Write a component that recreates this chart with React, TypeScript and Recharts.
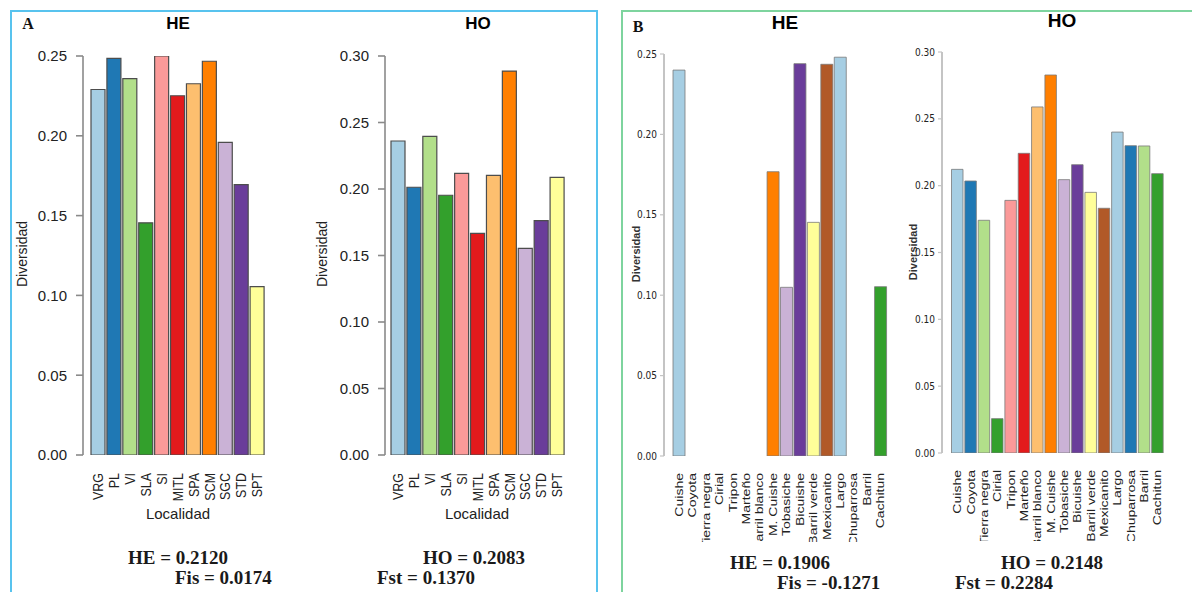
import { BarChart, Bar, XAxis, YAxis, Cell } from "recharts";

// localidades / variedades
const locA = ["VRG", "PL", "VI", "SLA", "SI", "MITL", "SPA", "SCM", "SGC", "STD", "SPT"];
const heA = [0.229, 0.2485, 0.2358, 0.1455, 0.25, 0.2251, 0.2326, 0.2467, 0.1959, 0.1694, 0.1055];
const hoA = [0.2361, 0.2013, 0.2396, 0.1953, 0.2118, 0.1667, 0.2103, 0.2887, 0.1554, 0.1762, 0.2088];

const locB = [
  "Cuishe", "Coyota", "Tierra negra", "Cirial", "Tripon", "Marteño", "Barril blanco", "M. Cuishe",
  "Tobasiche", "Bicuishe", "Barril verde", "Mexicanito", "Largo", "Chuparrosa", "Barril", "Cachitun",
];
const heB = [0.24, 0, 0, 0, 0, 0, 0, 0.1768, 0.1049, 0.244, 0.1453, 0.2436, 0.248, 0, 0, 0.1053];
const hoB = [0.2122, 0.2035, 0.1741, 0.0257, 0.189, 0.2242, 0.2589, 0.2828, 0.2045, 0.2157, 0.195, 0.1831, 0.2401, 0.2299, 0.2297, 0.209];

const ticks25 = [0, 0.05, 0.1, 0.15, 0.2, 0.25];
const ticks30 = [0, 0.05, 0.1, 0.15, 0.2, 0.25, 0.3];

const PAIRED = [
  "#a6cee3", "#1f78b4", "#b2df8a", "#33a02c", "#fb9a99", "#e31a1c",
  "#fdbf6f", "#ff7f00", "#cab2d6", "#6a3d9a", "#ffff99", "#b15928",
];

const SANS = "'Liberation Sans', Arial, sans-serif";
const NARROW = "'Liberation Sans Narrow', 'DejaVu Sans Condensed', sans-serif";
const SERIF = "'Liberation Serif', 'Times New Roman', serif";

type Box = { l: number; t: number; r: number; b: number };

function RotTick(props: any) {
  const { x, y, payload, fontSize, sx } = props;
  return (
    <text
      transform={`translate(${x},${y}) rotate(-90) scale(${sx},1)`}
      textAnchor="end"
      dy="0.35em"
      fontSize={fontSize}
      fontFamily={SANS}
      fill="#222"
    >
      {payload.value}
    </text>
  );
}

function DivChart(props: {
  x: number;
  h: number;
  w: number;
  plot: Box;
  padLeft: number;
  names: string[];
  values: number[];
  ticks: number[];
  max: number;
  barSize: number;
  small?: boolean;
}) {
  const { x, h, w, plot, padLeft, names, values, ticks, max, barSize, small } = props;
  const data = names.map((n, i) => ({ name: n, value: values[i] }));
  const axisColor = small ? "#c4c4c4" : "#8a8a8a";
  return (
    <div style={{ position: "absolute", left: x, top: 0 }}>
      <BarChart
        width={w}
        height={h}
        data={data}
        margin={{ top: plot.t, left: plot.l - x - 60, right: x + w - plot.r, bottom: h - plot.b - 20 }}
      >
        <XAxis
          dataKey="name"
          height={20}
          axisLine={false}
          tickLine={false}
          tickSize={0}
          tickMargin={small ? 17 : 18}
          interval={0}
          padding={{ left: padLeft, right: 0 }}
          tick={(p: any) => (
            <RotTick {...p} fontSize={small ? 11.5 : 15} sx={small ? 1.22 : 0.83} />
          )}
        />
        <YAxis
          width={60}
          type="number"
          domain={[0, max]}
          ticks={ticks}
          allowDataOverflow
          interval={0}
          tickFormatter={(v: number) => v.toFixed(2)}
          axisLine={{ stroke: axisColor, strokeWidth: small ? 2 : 1.6 }}
          tickLine={{ stroke: axisColor, strokeWidth: small ? 1.2 : 1.6 }}
          tickSize={small ? 4 : 7}
          tickMargin={small ? 3 : 9}
          tick={{ fontSize: small ? 10 : 15, fill: "#222", fontFamily: small ? NARROW : SANS }}
        />
        <Bar
          dataKey="value"
          barSize={barSize}
          isAnimationActive={false}
          stroke={small ? "#7a7a7a" : "#4d4d4d"}
          strokeWidth={small ? 0.8 : 1.2}
        >
          {data.map((d, i) => (
            <Cell key={d.name} fill={PAIRED[i % PAIRED.length]} />
          ))}
        </Bar>
      </BarChart>
    </div>
  );
}

function Txt(props: { x: number; y: number; children: any; style?: any; left?: boolean; rot?: boolean }) {
  const { x, y, children, style, left, rot } = props;
  let tf = left ? "translate(0,-50%)" : "translate(-50%,-50%)";
  if (rot) tf += " rotate(-90deg)";
  return (
    <div
      style={{
        position: "absolute",
        left: x,
        top: y,
        transform: tf,
        whiteSpace: "nowrap",
        lineHeight: 1,
        color: "#111",
        ...style,
      }}
    >
      {children}
    </div>
  );
}

export default function App() {
  const stat = { fontFamily: SERIF, fontWeight: "bold", fontSize: 19, color: "#1a1a1a" };
  const title = { fontFamily: SANS, fontWeight: "bold", color: "#000" };
  return (
    <div
      style={{
        position: "absolute",
        left: 0,
        top: 0,
        width: 1192,
        height: 592,
        background: "#fff",
        overflow: "hidden",
      }}
    >
      {/* marcos de los paneles */}
      <div style={{ position: "absolute", left: 10, top: 10, width: 584, height: 620, border: "2px solid #58c3ee" }} />
      <div style={{ position: "absolute", left: 621, top: 10, width: 620, height: 620, border: "2px solid #7ed49e" }} />

      <DivChart x={0} w={300} h={510} plot={{ l: 83, t: 56, r: 265, b: 455 }} padLeft={7}
        names={locA} values={heA} ticks={ticks25} max={0.25} barSize={14} />
      <DivChart x={315} w={285} h={510} plot={{ l: 385, t: 56, r: 565, b: 455 }} padLeft={5}
        names={locA} values={hoA} ticks={ticks30} max={0.3} barSize={14} />
      <DivChart x={594} w={306} h={542} plot={{ l: 664, t: 54, r: 887, b: 456 }} padLeft={8}
        names={locB} values={heB} ticks={ticks25} max={0.25} barSize={12} small />
      <DivChart x={872} w={320} h={541} plot={{ l: 942, t: 52, r: 1164, b: 453 }} padLeft={8.5}
        names={locB} values={hoB} ticks={ticks30} max={0.3} barSize={11.5} small />

      <Txt x={28} y={24} style={{ fontFamily: SERIF, fontWeight: "bold", fontSize: 16 }}>A</Txt>
      <Txt x={638} y={27} style={{ fontFamily: SERIF, fontWeight: "bold", fontSize: 16 }}>B</Txt>

      <Txt x={178} y={23} style={{ ...title, fontSize: 17 }}>HE</Txt>
      <Txt x={478} y={23} style={{ ...title, fontSize: 17 }}>HO</Txt>
      <Txt x={785} y={22} style={{ ...title, fontSize: 19 }}>HE</Txt>
      <Txt x={1062} y={20} style={{ ...title, fontSize: 19 }}>HO</Txt>

      <Txt x={22} y={254} rot style={{ fontFamily: SANS, fontSize: 14, color: "#222" }}>Diversidad</Txt>
      <Txt x={322} y={254} rot style={{ fontFamily: SANS, fontSize: 14, color: "#222" }}>Diversidad</Txt>
      <Txt x={636} y={254} rot style={{ fontFamily: SANS, fontSize: 11, fontWeight: "bold", color: "#333" }}>Diversidad</Txt>
      <Txt x={913} y={252} rot style={{ fontFamily: SANS, fontSize: 11, fontWeight: "bold", color: "#333" }}>Diversidad</Txt>

      <Txt x={178} y={513} style={{ fontFamily: SANS, fontSize: 15, color: "#222" }}>Localidad</Txt>
      <Txt x={477} y={513} style={{ fontFamily: SANS, fontSize: 15, color: "#222" }}>Localidad</Txt>

      <Txt x={178} y={557} style={stat}>HE = 0.2120</Txt>
      <Txt x={175} y={577} left style={stat}>Fis = 0.0174</Txt>
      <Txt x={474} y={557} style={stat}>HO = 0.2083</Txt>
      <Txt x={377} y={577} left style={stat}>Fst = 0.1370</Txt>

      <Txt x={780} y={562} style={stat}>HE = 0.1906</Txt>
      <Txt x={777} y={582} left style={stat}>Fis = -0.1271</Txt>
      <Txt x={1052} y={562} style={stat}>HO = 0.2148</Txt>
      <Txt x={955} y={582} left style={stat}>Fst = 0.2284</Txt>
    </div>
  );
}
